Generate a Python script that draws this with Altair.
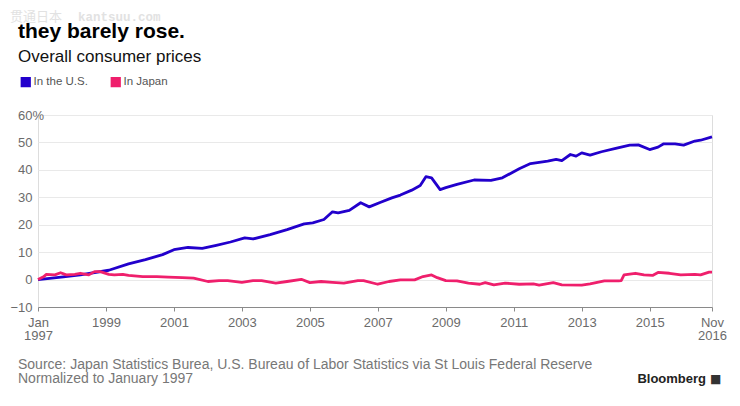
import altair as alt
import pandas as pd

# ---------------- data ----------------
us_dates = ["1997-01", "1997-10", "1998-04", "1999-02", "1999-09", "2000-03", "2000-09",
            "2001-01", "2001-06", "2001-11", "2002-04", "2002-09", "2003-02", "2003-05",
            "2003-11", "2004-05", "2004-11", "2005-02", "2005-06", "2005-09", "2005-11",
            "2006-03", "2006-07", "2006-10", "2007-02", "2007-06", "2007-09", "2008-01",
            "2008-04", "2008-06", "2008-08", "2008-11", "2009-01", "2009-05", "2009-11",
            "2010-05", "2010-09", "2011-03", "2011-07", "2012-01", "2012-04", "2012-06",
            "2012-09", "2012-11", "2013-01", "2013-04", "2013-08", "2014-01", "2014-06",
            "2014-09", "2015-01", "2015-04", "2015-06", "2015-10", "2016-01", "2016-05",
            "2016-07", "2016-11"]
us_values = [0.0, 1.0, 1.7, 3.4, 5.7, 7.3, 9.1,
             10.9, 11.7, 11.4, 12.5, 13.7, 15.2, 14.8,
             16.4, 18.2, 20.3, 20.7, 21.9, 24.7, 24.3,
             25.2, 28.0, 26.5, 28.2, 29.8, 30.8, 32.6,
             34.3, 37.5, 37.1, 32.8, 33.5, 34.7, 36.3,
             36.2, 37.1, 40.4, 42.3, 43.2, 43.8, 43.4,
             45.6, 45.0, 46.2, 45.4, 46.6, 47.8, 49.0,
             49.1, 47.4, 48.3, 49.5, 49.5, 49.0, 50.5,
             50.8, 52.0]

jp_dates = ["1997-01", "1997-03", "1997-04", "1997-07", "1997-09", "1997-11", "1998-02",
            "1998-04", "1998-07", "1998-09", "1998-11", "1999-02", "1999-04", "1999-07",
            "1999-09", "2000-02", "2000-07", "2000-11", "2001-04", "2001-08", "2002-01",
            "2002-05", "2002-08", "2003-01", "2003-05", "2003-08", "2004-01", "2004-05",
            "2004-10", "2005-01", "2005-05", "2005-09", "2006-01", "2006-06", "2006-08",
            "2007-01", "2007-05", "2007-09", "2008-02", "2008-05", "2008-08", "2008-10",
            "2009-01", "2009-05", "2009-09", "2010-01", "2010-03", "2010-06", "2010-10",
            "2011-03", "2011-08", "2011-10", "2012-03", "2012-06", "2013-01", "2013-04",
            "2013-09", "2014-02", "2014-03", "2014-04", "2014-08", "2014-11", "2015-02",
            "2015-04", "2015-08", "2015-12", "2016-05", "2016-07", "2016-10", "2016-11"]
jp_values = [0.0, 1.0, 1.9, 1.7, 2.5, 1.7, 1.9,
             2.3, 1.7, 2.9, 2.9, 1.9, 1.7, 1.9,
             1.5, 1.1, 1.1, 0.9, 0.7, 0.5, -0.7,
             -0.4, -0.4, -1.0, -0.4, -0.4, -1.3, -0.7,
             0.1, -1.1, -0.7, -1.0, -1.3, -0.4, -0.4,
             -1.7, -0.7, -0.1, -0.1, 1.1, 1.7, 0.7,
             -0.4, -0.5, -1.3, -1.7, -1.1, -1.9, -1.3,
             -1.7, -1.6, -2.0, -1.1, -1.9, -2.0, -1.6,
             -0.5, -0.5, -0.4, 1.7, 2.3, 1.7, 1.5,
             2.6, 2.3, 1.7, 1.9, 1.7, 2.7, 2.7]

series_names = ["In the U.S.", "In Japan"]
series_colors = ["#2200cc", "#ef1f6c"]
y_ticks = [-10, 0, 10, 20, 30, 40, 50, 60]
x_tick_years = [1997, 1999, 2001, 2003, 2005, 2007, 2009, 2011, 2013, 2015]

title_text = "they barely rose."
subtitle_text = "Overall consumer prices"
source_lines = ["Source: Japan Statistics Burea, U.S. Bureau of Labor Statistics via St Louis Federal Reserve",
                "Normalized to January 1997"]
brand_text = "Bloomberg"
watermark_cn = "贯通日本"
watermark_en = "kantsuu.com"

FONT = "Liberation Sans"

us_df = pd.DataFrame({"date": [d + "-01T00:00:00" for d in us_dates], "value": us_values,
                      "series": series_names[0]})
jp_df = pd.DataFrame({"date": [d + "-01T00:00:00" for d in jp_dates], "value": jp_values,
                      "series": series_names[1]})
all_df = pd.concat([us_df, jp_df], ignore_index=True)

x_values = [alt.DateTime(year=y, month=1, date=1) for y in x_tick_years] + \
           [alt.DateTime(year=2016, month=11, date=1)]

x_enc = alt.X(
    "date:T",
    title=None,
    scale=alt.Scale(domain=[alt.DateTime(year=1997, month=1, date=1),
                            alt.DateTime(year=2016, month=11, date=1)], nice=False),
    axis=alt.Axis(
        values=x_values,
        labelExpr="year(datum.value) == 1997 ? ['Jan', '1997'] : (year(datum.value) == 2016 ? ['Nov', '2016'] : timeFormat(datum.value, '%Y'))",
        labelLineHeight=13,
        labelFont=FONT, labelFontSize=13, labelColor="#6b6b6b",
        labelPadding=5, labelAlign="center", labelOverlap=False, labelFlush=False,
        grid=False, domainColor="#8a8a8a", tickColor="#8a8a8a", tickSize=4,
        domainWidth=1, tickWidth=1,
    ),
)

y_enc = alt.Y(
    "value:Q",
    title=None,
    scale=alt.Scale(domain=[-10, 60], nice=False, zero=False),
    axis=alt.Axis(
        values=y_ticks,
        labelExpr="datum.value == 60 ? '60%' : datum.label",
        labelFont=FONT, labelFontSize=13, labelColor="#6b6b6b",
        labelPadding={"condition": {"test": "datum.value == 60", "value": -5.5}, "value": 6},
        domain=False, ticks=False,
        grid=True, gridColor="#e9e9e9", gridWidth=1,
    ),
)

color_scale = alt.Scale(domain=series_names, range=series_colors)

legend_layer = alt.Chart(all_df).transform_filter("false").mark_square(
    filled=True, strokeWidth=0, opacity=1
).encode(
    x=x_enc, y=y_enc,
    color=alt.Color("series:N", scale=color_scale, title=None,
                    legend=alt.Legend(orient="none", legendX=-18, legendY=-39,
                                      direction="horizontal", symbolType="square",
                                      symbolSize=105, symbolStrokeWidth=0,
                                      symbolOpacity=1,
                                      labelFont=FONT, labelFontSize=11.5,
                                      labelColor="#555555", labelOffset=2,
                                      columnPadding=22, padding=0)),
)

us_line = alt.Chart(us_df).mark_line(strokeWidth=2.8, strokeJoin="round").encode(
    x=x_enc, y=y_enc,
    color=alt.Color("series:N", scale=color_scale, legend=None),
)
jp_line = alt.Chart(jp_df).mark_line(strokeWidth=2.8, strokeJoin="round").encode(
    x=x_enc, y=y_enc,
    color=alt.Color("series:N", scale=color_scale, legend=None),
)


def text_layer(txt, x, y, size, color, weight="normal", align="left", font=FONT):
    return alt.Chart(pd.DataFrame({"t": [txt]})).mark_text(
        align=align, baseline="alphabetic", fontSize=size, font=font,
        fontWeight=weight, color=color,
    ).encode(x=alt.value(x), y=alt.value(y), text="t:N")


texts = [
    text_layer(watermark_cn, -28, -94, 13, "#e2e2e2", font="Noto Sans CJK SC"),
    text_layer(watermark_en, 40, -94, 12.5, "#e2e2e2", weight="bold", font="Liberation Mono"),
    text_layer(title_text, -20, -77, 21, "#000000", weight="bold"),
    text_layer(subtitle_text, -20, -53, 17, "#111111"),
    text_layer(source_lines[0], -20, 254, 14, "#777777"),
    text_layer(source_lines[1], -20, 268, 14, "#777777"),
    text_layer(brand_text, 668, 268, 13, "#222222", weight="bold", align="right"),
    text_layer("\u25A0", 672, 268, 12, "#333333", font="DejaVu Sans"),
]

chart = alt.layer(legend_layer, us_line, jp_line, *texts).properties(
    width=674, height=192,
    autosize=alt.AutoSizeParams(type="none"),
    padding={"left": 30, "top": 107, "right": 20, "bottom": 91},
).configure_view(strokeWidth=0).configure(background="white")

chart.save("out.html", embed_options={"renderer": "svg", "actions": False})
